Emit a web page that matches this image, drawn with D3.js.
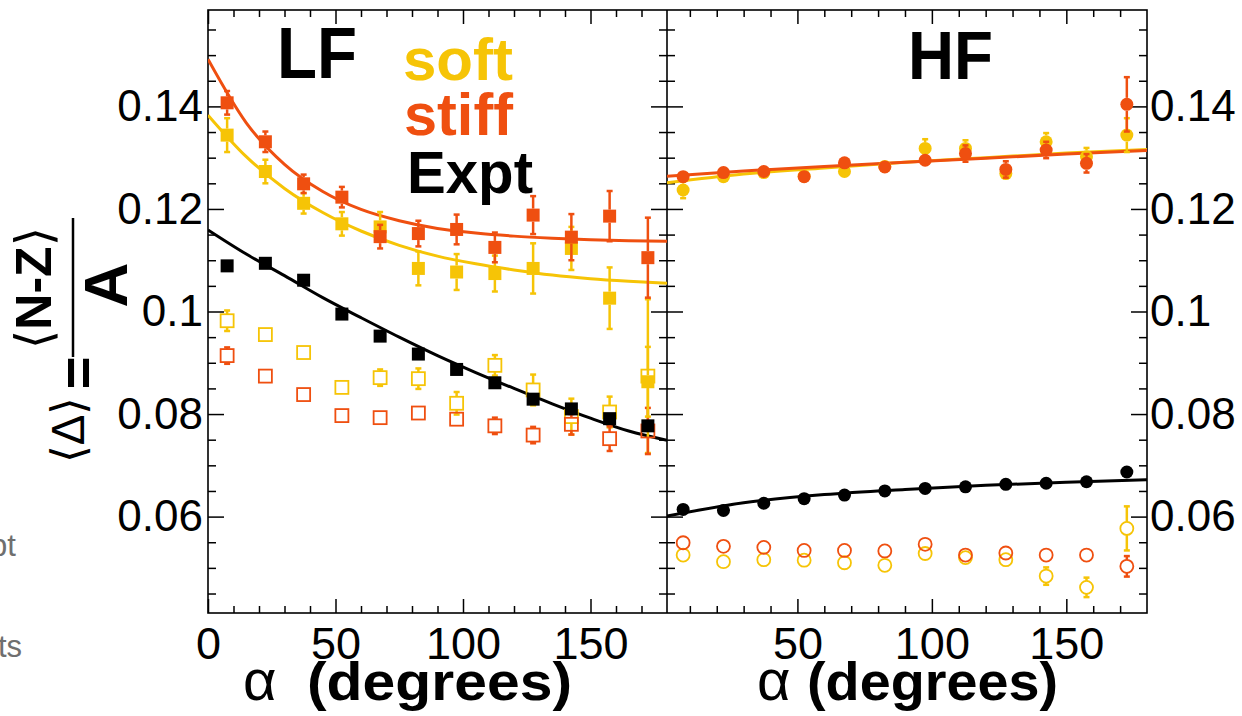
<!DOCTYPE html>
<html>
<head>
<meta charset="utf-8">
<script src="https://cdn.jsdelivr.net/npm/d3@7"></script>
<style>
  body { margin: 0; background: #fff; }
  svg text { font-family: "Liberation Sans", Arial, sans-serif; }
</style>
</head>
<body>
<div id="chart"></div>
<script>
// bin centres, degrees
const alpha = [7.5, 22.5, 37.5, 52.5, 67.5, 82.5, 97.5, 112.5, 127.5, 142.5, 157.5, 172.5];

// LF panel (squares)
const lfSoft      = [0.1344, 0.1273, 0.1211, 0.1171, 0.1165, 0.1084, 0.1077, 0.1074, 0.1084, 0.1123, 0.1026, 0.0863];
const lfSoftErr   = [0.0033, 0.0023, 0.0020, 0.0023, 0.0029, 0.0033, 0.0035, 0.0035, 0.0049, 0.0042, 0.0060, 0.0068];
const lfStiff     = [0.1407, 0.1331, 0.1249, 0.1223, 0.1146, 0.1152, 0.1160, 0.1125, 0.1188, 0.1145, 0.1186, 0.1105];
const lfStiffErr  = [0.0023, 0.0020, 0.0018, 0.0020, 0.0023, 0.0025, 0.0029, 0.0029, 0.0037, 0.0045, 0.0049, 0.0078];
const lfExpt      = [0.1089, 0.1094, 0.1061, 0.0995, 0.0952, 0.0917, 0.0887, 0.0861, 0.0829, 0.0810, 0.0791, 0.0777];
const lfSoftOpen     = [0.0982, 0.0955, 0.0920, 0.0852, 0.0871, 0.0869, 0.0821, 0.0895, 0.0847, 0.0795, 0.0804, 0.0874];
const lfSoftOpenErr  = [0.0020, 0.0010, 0.0010, 0.0010, 0.0016, 0.0020, 0.0022, 0.0020, 0.0030, 0.0035, 0.0030, 0.0150];
const lfStiffOpen    = [0.0914, 0.0874, 0.0838, 0.0797, 0.0793, 0.0802, 0.0790, 0.0777, 0.0759, 0.0780, 0.0752, 0.0767];
const lfStiffOpenErr = [0.0016, 0.0008, 0.0008, 0.0008, 0.0008, 0.0010, 0.0010, 0.0016, 0.0016, 0.0020, 0.0024, 0.0045];

// LF fit curves
const lfFitAlpha = [0, 15, 30, 45, 60, 75, 90, 105, 120, 135, 150, 165, 180];
const lfStiffFit = [0.1492, 0.1368, 0.1287, 0.1234, 0.1199, 0.1177, 0.1162, 0.1153, 0.1147, 0.1143, 0.1140, 0.1138, 0.1137];
const lfSoftFit  = [0.1383, 0.1302, 0.1240, 0.1193, 0.1157, 0.1129, 0.1108, 0.1093, 0.1081, 0.1071, 0.1064, 0.1059, 0.1055];
const lfExptFit  = [0.1159, 0.1112, 0.1070, 0.1027, 0.0988, 0.0950, 0.0914, 0.0881, 0.0850, 0.0820, 0.0792, 0.0767, 0.0749];

// HF panel (circles)
const hfSoft      = [0.1237, 0.1263, 0.1271, 0.1264, 0.1273, 0.1283, 0.1318, 0.1318, 0.1269, 0.1331, 0.1302, 0.1344];
const hfSoftErr   = [0.0016, 0.0010, 0.0010, 0.0010, 0.0010, 0.0010, 0.0018, 0.0016, 0.0010, 0.0017, 0.0017, 0.0033];
const hfStiff     = [0.1263, 0.1271, 0.1273, 0.1263, 0.1290, 0.1282, 0.1295, 0.1308, 0.1277, 0.1315, 0.1289, 0.1404];
const hfStiffErr  = [0.0010, 0.0008, 0.0008, 0.0008, 0.0010, 0.0010, 0.0012, 0.0016, 0.0016, 0.0016, 0.0018, 0.0053];
const hfExpt      = [0.0614, 0.0612, 0.0626, 0.0635, 0.0642, 0.0650, 0.0655, 0.0658, 0.0663, 0.0665, 0.0668, 0.0687];
const hfSoftOpen     = [0.0525, 0.0512, 0.0516, 0.0515, 0.0510, 0.0505, 0.0528, 0.0520, 0.0516, 0.0484, 0.0462, 0.0577];
const hfSoftOpenErr  = [0.0008, 0.0006, 0.0006, 0.0006, 0.0006, 0.0006, 0.0008, 0.0008, 0.0008, 0.0017, 0.0019, 0.0043];
const hfStiffOpen    = [0.0549, 0.0542, 0.0540, 0.0534, 0.0534, 0.0533, 0.0546, 0.0525, 0.0529, 0.0525, 0.0525, 0.0503];
const hfStiffOpenErr = [0.0006, 0.0006, 0.0006, 0.0006, 0.0006, 0.0006, 0.0006, 0.0006, 0.0006, 0.0006, 0.0006, 0.0020];

const hfFitAlpha = [1.5, 30, 60, 90, 120, 150, 180];
const hfStiffFit = [0.1264, 0.1274, 0.1283, 0.1291, 0.1299, 0.1307, 0.1314];
const hfSoftFit  = [0.1251, 0.1268, 0.1280, 0.1291, 0.1300, 0.1309, 0.1316];
const hfExptFit  = [0.0601, 0.0627, 0.0643, 0.0653, 0.0661, 0.0667, 0.0672];

// ticks
const yMajor = [0.06, 0.08, 0.1, 0.12, 0.14];
const yLabels = ["0.06", "0.08", "0.1", "0.12", "0.14"];
const yMinor = d3.range(9, 32).filter(k => k % 4 !== 0).map(k => k * 0.005);
const xMajorL = [0, 50, 100, 150];
const xMajorR = [50, 100, 150];
const xMinor = d3.range(1, 18).filter(k => k % 5 !== 0).map(k => k * 10);

const SOFT = "#f6c406";
const STIFF = "#ef4f10";

const W = 1242, H = 716;
const yTop = 10, yBot = 613;

const svg = d3.select("#chart").append("svg")
    .attr("width", W)
    .attr("height", H);

svg.append("rect").attr("width", W).attr("height", H).attr("fill", "#fff");

const xL = d3.scaleLinear().domain([0, 180]).range([208, 667]);
const xR = d3.scaleLinear().domain([1.5, 180]).range([667, 1147]);
const y = d3.scaleLinear().domain([0.0412, 0.1588]).range([yBot, yTop]);

const defs = svg.append("defs");
defs.append("clipPath").attr("id", "clipL")
    .append("rect").attr("x", 208).attr("y", yTop).attr("width", 459).attr("height", yBot - yTop);
defs.append("clipPath").attr("id", "clipR")
    .append("rect").attr("x", 667).attr("y", yTop).attr("width", 480).attr("height", yBot - yTop);

function noDomain(g) { g.select(".domain").remove(); }

function tickAxis(axis, tx, ty) {
    svg.append("g")
        .attr("transform", `translate(${tx},${ty})`)
        .call(axis)
        .call(noDomain)
        .call(g => g.selectAll("line").attr("stroke-width", 1.5));
}

// y ticks on all four vertical borders, pointing inwards
[[208, d3.axisRight], [667, d3.axisLeft], [667, d3.axisRight], [1147, d3.axisLeft]].forEach(([px, ax]) => {
    tickAxis(ax(y).tickValues(yMajor).tickSize(16).tickFormat(""), px, 0);
    tickAxis(ax(y).tickValues(yMinor).tickSize(8).tickFormat(""), px, 0);
});

// x ticks top and bottom
[[xL, xMajorL], [xR, xMajorR]].forEach(([xs, maj]) => {
    tickAxis(d3.axisTop(xs).tickValues(maj).tickSize(14).tickFormat(""), 0, yBot);
    tickAxis(d3.axisTop(xs).tickValues(xMinor).tickSize(7).tickFormat(""), 0, yBot);
    tickAxis(d3.axisBottom(xs).tickValues(maj).tickSize(14).tickFormat(""), 0, yTop);
    tickAxis(d3.axisBottom(xs).tickValues(xMinor).tickSize(7).tickFormat(""), 0, yTop);
});

// tick labels
function labelAxis(axis, tx, ty, size) {
    svg.append("g")
        .attr("transform", `translate(${tx},${ty})`)
        .call(axis)
        .call(noDomain)
        .attr("font-family", "Liberation Sans, Arial, sans-serif")
        .attr("font-size", size)
        .call(g => g.selectAll("line").remove());
}
labelAxis(d3.axisLeft(y).tickValues(yMajor).tickSize(0).tickPadding(5).tickFormat((d, i) => yLabels[i]), 208, 0, 44);
labelAxis(d3.axisRight(y).tickValues(yMajor).tickSize(0).tickPadding(3).tickFormat((d, i) => yLabels[i]), 1147, 0, 44);
labelAxis(d3.axisBottom(xL).tickValues(xMajorL).tickSize(0).tickPadding(14), 0, yBot, 45);
labelAxis(d3.axisBottom(xR).tickValues(xMajorR).tickSize(0).tickPadding(14), 0, yBot, 45);

// frames
svg.append("rect").attr("x", 208).attr("y", yTop).attr("width", 939).attr("height", yBot - yTop)
    .attr("fill", "none").attr("stroke", "#000").attr("stroke-width", 1.6);
svg.append("line").attr("x1", 667).attr("x2", 667).attr("y1", yTop).attr("y2", yBot)
    .attr("stroke", "#000").attr("stroke-width", 1.6);

// fit lines
function fitLine(xs, clip, xa, ya, color) {
    svg.append("path")
        .datum(xa.map((a, i) => [a, ya[i]]))
        .attr("clip-path", `url(#${clip})`)
        .attr("fill", "none")
        .attr("stroke", color)
        .attr("stroke-width", 3)
        .attr("d", d3.line().x(d => xs(d[0])).y(d => y(d[1])).curve(d3.curveMonotoneX));
}

// markers with error bars (bars stop at the marker edge, as ROOT draws them)
function series(xs, vals, errs, color, shape, filled) {
    const g = svg.append("g");
    const half = 6.5;
    const data = vals.map((v, i) => ({ a: alpha[i], v, e: errs ? errs[i] : 0 }));
    const eb = g.selectAll(".eb")
        .data(data.filter(d => y(d.v - d.e) - y(d.v) > half + 1))
        .enter().append("g")
        .attr("stroke", color).attr("stroke-width", 2.5);
    eb.append("line").attr("x1", d => xs(d.a)).attr("x2", d => xs(d.a))
        .attr("y1", d => y(d.v + d.e)).attr("y2", d => y(d.v) - half);
    eb.append("line").attr("x1", d => xs(d.a)).attr("x2", d => xs(d.a))
        .attr("y1", d => y(d.v) + half).attr("y2", d => y(d.v - d.e));
    eb.append("line").attr("x1", d => xs(d.a) - 3).attr("x2", d => xs(d.a) + 3)
        .attr("y1", d => y(d.v + d.e)).attr("y2", d => y(d.v + d.e));
    eb.append("line").attr("x1", d => xs(d.a) - 3).attr("x2", d => xs(d.a) + 3)
        .attr("y1", d => y(d.v - d.e)).attr("y2", d => y(d.v - d.e));
    if (shape === "square") {
        g.selectAll(".m").data(data).enter().append("rect")
            .attr("x", d => xs(d.a) - half).attr("y", d => y(d.v) - half)
            .attr("width", half * 2).attr("height", half * 2)
            .attr("fill", filled ? color : "none")
            .attr("stroke", color).attr("stroke-width", filled ? 0 : 1.8);
    } else {
        g.selectAll(".m").data(data).enter().append("circle")
            .attr("cx", d => xs(d.a)).attr("cy", d => y(d.v)).attr("r", half)
            .attr("fill", filled ? color : "none")
            .attr("stroke", color).attr("stroke-width", filled ? 0 : 1.8);
    }
}

// LF
fitLine(xL, "clipL", lfFitAlpha, lfSoftFit, SOFT);
fitLine(xL, "clipL", lfFitAlpha, lfStiffFit, STIFF);
fitLine(xL, "clipL", lfFitAlpha, lfExptFit, "#000");
series(xL, lfSoftOpen, lfSoftOpenErr, SOFT, "square", false);
series(xL, lfStiffOpen, lfStiffOpenErr, STIFF, "square", false);
series(xL, lfSoft, lfSoftErr, SOFT, "square", true);
series(xL, lfStiff, lfStiffErr, STIFF, "square", true);
series(xL, lfExpt, null, "#000", "square", true);

// HF
fitLine(xR, "clipR", hfFitAlpha, hfSoftFit, SOFT);
fitLine(xR, "clipR", hfFitAlpha, hfStiffFit, STIFF);
fitLine(xR, "clipR", hfFitAlpha, hfExptFit, "#000");
series(xR, hfSoftOpen, hfSoftOpenErr, SOFT, "circle", false);
series(xR, hfStiffOpen, hfStiffOpenErr, STIFF, "circle", false);
series(xR, hfSoft, hfSoftErr, SOFT, "circle", true);
series(xR, hfStiff, hfStiffErr, STIFF, "circle", true);
series(xR, hfExpt, null, "#000", "circle", true);

// panel labels and legend
function label(x, yy, str, size, color, len) {
    const t = svg.append("text").attr("x", x).attr("y", yy)
        .attr("font-size", size).attr("font-weight", "bold").attr("fill", color).text(str);
    if (len) t.attr("textLength", len).attr("lengthAdjust", "spacingAndGlyphs");
    return t;
}
label(277, 78, "LF", 72, "#000", 80);
label(908, 79, "HF", 68, "#000", 85);
label(403, 80, "soft", 60, SOFT, 110);
label(404, 135, "stiff", 60, STIFF, 109);
label(407, 193, "Expt", 60, "#000", 126);

// x titles
[[243, 307, 265], [757, 807, 251]].forEach(([ax, dx, len]) => {
    svg.append("text").attr("x", ax).attr("y", 700)
        .attr("font-family", "Liberation Serif, serif").attr("font-size", 58).text("α");
    svg.append("text").attr("x", dx).attr("y", 700)
        .attr("font-size", 54).attr("font-weight", "bold")
        .attr("textLength", len).attr("lengthAdjust", "spacingAndGlyphs").text("(degrees)");
});

// y title, rotated
function rtext(px, py, size) {
    return svg.append("text")
        .attr("transform", `translate(${px},${py}) rotate(-90)`)
        .attr("text-anchor", "middle").attr("font-size", size);
}
rtext(84, 430, 46).attr("font-family", "DejaVu Sans, sans-serif").text("⟨Δ⟩");
rtext(97, 373, 56).attr("font-weight", "bold").text("=");
const num = rtext(51, 288, 50);
num.append("tspan").attr("font-family", "DejaVu Sans, sans-serif").text("⟨");
num.append("tspan").attr("font-weight", "bold").text("N-Z");
num.append("tspan").attr("font-family", "DejaVu Sans, sans-serif").text("⟩");
svg.append("line").attr("x1", 73).attr("x2", 73).attr("y1", 218).attr("y2", 357)
    .attr("stroke", "#000").attr("stroke-width", 2.5);
rtext(127, 285, 62).attr("font-weight", "bold").text("A");

// stray page text at the left edge
svg.append("text").attr("x", -10).attr("y", 556).attr("font-family", "Open Sans, sans-serif")
    .attr("font-size", 31).attr("fill", "#6f6f6f").text("pt");
svg.append("text").attr("x", -2).attr("y", 657).attr("font-family", "Open Sans, sans-serif")
    .attr("font-size", 31).attr("fill", "#6f6f6f").text("ts");
</script>
</body>
</html>
